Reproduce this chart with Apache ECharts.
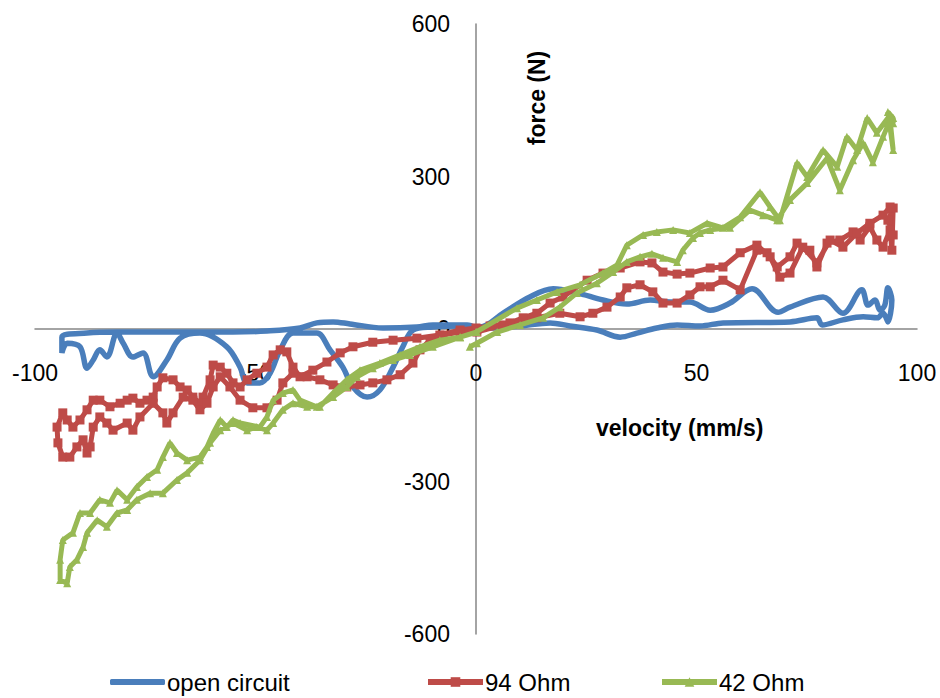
<!DOCTYPE html>
<html>
<head>
<meta charset="utf-8">
<script src="https://cdn.jsdelivr.net/npm/echarts@6/dist/echarts.min.js"></script>
<style>
html,body{margin:0;padding:0;background:#fff;}
#chart{width:940px;height:698px;}
</style>
</head>
<body>
<div id="chart"></div>
<script>
// ---- data (velocity mm/s, force N) ----
var seriesNames = ["open circuit", "94 Ohm", "42 Ohm"];
var xTicks = [-100, -50, 0, 50, 100];
var yTicks = [-600, -300, 0, 300, 600];

var openCircuit = [
  [0,2],[3.2,2],[10,6],[16.8,12],[21.3,6],[27.4,-2],[32.7,-16],[36.5,-8],[41,2],[45.6,8],[50.8,6],
  [56,12],[71.2,14],[77.3,22],[78.5,8],[83.2,18],[87.8,24],[91,22],[92.3,31],[93.2,18],
  [93.4,14],[94.3,57],[93.4,81],[92.7,47],
  [91.6,37],[90.5,57],[88.9,47],[87.5,77],[83.2,31],[78.7,63],[71.2,43],[68.5,33],[62.6,79],
  [57.6,51],[53.1,37],[48.5,53],[44,53],[39.5,57],[34.2,49],[28.8,57],[22.9,71],[17.5,79],
  [12.2,63],[6.1,31],[0.9,4],
  [-3.6,6],[-9.8,4],[-14.3,-2],[-16.6,-35],[-18.8,-75],[-21.8,-120],[-24.7,-134],[-27.9,-114],
  [-30.2,-75],[-33.1,-41],[-36.1,-8],[-41.5,-8],[-44.4,-41],[-46.7,-87],[-49,-106],[-51.9,-106],
  [-53.5,-75],[-56.5,-35],[-62.6,-8],[-67.1,-18],[-70.1,-61],[-73.2,-94],[-75.5,-47],[-77.8,-55],
  [-80,-28],[-81.4,-8],[-83.7,-55],[-85.3,-41],[-86.8,-61],[-88.2,-77],[-89.8,-35],[-92.7,-28],
  [-93.9,-47],[-93.9,-16],
  [-88.2,-8],[-81.4,-6],[-70.1,-6],[-55.1,-6],[-47.4,-4],[-39.9,2],[-36.1,12],[-32.4,14],
  [-28.6,10],[-21.1,2],[-13.4,4],[-9.8,8],[-2,8],[0,2]
];

var ohm94 = [
  [0.2,-6],[6.1,8],[13.8,22],[19,31],[23.6,24],[26.5,31],[29.7,43],[32.7,63],[34.2,81],[37.2,87],
  [40.1,73],[42.4,51],[45.6,51],[48.5,67],[50.8,83],[53.1,83],[56,96],[59.9,77],[63.7,155],
  [66,150],[68.3,122],[71.2,142],[72.8,169],[75.7,155],[77.3,122],[79.6,169],[82.5,175],
  [85.5,191],[87.1,175],[89.3,201],[90.9,175],[92.3,161],[93.9,195],
  [94.3,155],[94.6,238],[93.4,214],[94.6,185],
  [93.9,240],[92.3,224],[89.3,208],[86.4,189],[83.2,161],[80.3,175],[77.3,130],[74.1,161],
  [71.2,110],[68.9,102],[66.7,142],[63.7,165],[59.9,150],[56,122],[53.1,120],[48.5,110],
  [45.6,108],[42.4,112],[39.9,130],[37.2,132],[32.7,120],[28.8,110],[25.2,96],[19.7,63],
  [16.8,51],[13.8,31],[10.7,22],[7.7,12],[3.2,6],[0,2],
  [-3.6,-2],[-8.2,-12],[-13.4,-18],[-18.8,-22],[-23.4,-26],[-27.9,-35],[-30.8,-47],[-33.8,-65],
  [-37,-81],[-39.9,-94],[-41.5,-75],[-42.9,-45],[-44.4,-41],[-46,-51],[-47.4,-75],[-49.7,-87],
  [-51.9,-100],[-53.5,-114],[-55.1,-106],[-56.5,-87],[-58,-75],[-59.6,-71],[-60.3,-100],
  [-61.9,-134],[-62.6,-146],[-64.2,-134],[-65.5,-120],[-67.1,-114],[-68.7,-100],[-71,-96],
  [-72.3,-114],[-73.2,-134],[-74.6,-140],[-76.2,-146],[-77.8,-136],[-79.1,-140],[-80.7,-146],
  [-83,-153],[-85.3,-140],[-86.8,-140],[-88.2,-159],[-89.8,-179],[-91.4,-193],[-92.7,-179],
  [-93.7,-165],[-95,-193],[-94.8,-224],[-93.7,-252],[-92.1,-252],
  [-90.5,-232],[-89.1,-218],[-88.2,-244],[-87.5,-232],[-86.8,-193],[-85.3,-173],[-83.7,-185],
  [-82.3,-199],[-79.1,-185],[-77.8,-199],[-76.2,-173],[-73.2,-146],[-71,-165],[-70.1,-185],
  [-68.7,-165],[-66.4,-134],[-64.2,-140],[-62.6,-159],[-61,-146],[-59.6,-114],[-58,-94],
  [-55.8,-114],[-53.5,-140],[-50.6,-155],[-47.4,-155],[-45.1,-140],[-43.8,-106],[-41.5,-87],
  [-38.3,-94],[-35.4,-100],[-32.4,-110],[-29.3,-114],[-26.3,-110],[-23.4,-106],[-20.2,-100],
  [-17.2,-90],[-14.3,-67],[-12.7,-41],[-10.4,-22],[-7.5,-12],[-3.6,-6],[0.2,0]
];

var ohm42 = [
  [-1.4,-35],[0.2,-28],[4.8,-6],[10,8],[15.2,22],[19,43],[22.9,71],[27.4,90],[31.1,112],
  [34.2,132],[37.2,142],[39.9,148],[42.4,140],[45.6,132],[46.9,155],[49.2,179],[50.8,189],
  [53.1,195],[57.6,199],[62.1,234],[65.1,224],[68.3,214],[71.2,254],[75.1,287],[79.6,336],
  [82.5,273],[85.5,332],[87.8,366],[90,328],[92.3,378],[93.9,411],
  [94.6,352],[93.4,427],[94.6,415],
  [94.6,405],[93.9,421],[90.9,386],[88.7,415],[86.4,352],[84.1,378],[81.9,319],[78.7,352],
  [75.1,299],[72.8,327],[68.9,214],[66.7,240],[64.4,269],[59.9,220],[56,199],[52.4,208],
  [48.5,189],[44.7,195],[41,191],[37.9,185],[34.2,165],[32,126],[28.8,110],[23.6,87],
  [18.4,73],[13.8,57],[9.3,41],[0,-6],
  [-3.6,-16],[-9.8,-35],[-15,-51],[-18.8,-61],[-23.4,-77],[-27,-94],[-29.3,-114],[-32.4,-134],
  [-36.1,-153],[-39.9,-140],[-41.5,-120],[-43.8,-126],[-46,-140],[-47.4,-173],[-49,-193],
  [-53.5,-185],[-55.1,-179],[-56.5,-193],[-58,-179],[-59.6,-205],[-61,-232],[-62.6,-252],
  [-65.5,-258],[-67.8,-244],[-69.4,-224],[-71,-252],[-72.3,-277],[-74.6,-291],[-76.9,-311],
  [-79.1,-336],[-81.4,-317],[-83,-342],[-85.3,-336],[-87.5,-362],[-89.8,-362],[-91.4,-401],
  [-93.7,-415],[-94.3,-454],[-94.3,-494],
  [-92.7,-500],[-92.1,-468],[-90.5,-454],[-89.1,-429],[-88.2,-401],[-85.9,-376],[-83.7,-389],
  [-81.4,-362],[-79.1,-356],[-76.9,-336],[-73.9,-323],[-71,-323],[-67.8,-297],[-65.5,-283],
  [-62.6,-258],[-60.3,-224],[-58,-199],[-55.1,-185],[-51.9,-199],[-49.7,-193],[-47.4,-199],
  [-46,-185],[-43.8,-159],[-41.5,-146],[-38.3,-153],[-35.4,-153],[-32.4,-126],[-29.3,-100],
  [-26.3,-81],[-21.8,-67],[-17.2,-51],[-12.7,-35],[-8.2,-22],[-3.6,-16],[0.2,-6]
];

var colors = ["#4A7EBB", "#BE4B48", "#98B954"];
var FONT = "'Liberation Sans', Arial, sans-serif";

var GRID = {left: 35, right: 23, top: 24, bottom: 64};
var W = 940, H = 698;
var plotW = W - GRID.left - GRID.right, plotH = H - GRID.top - GRID.bottom;
// pixel position of the zero lines inside the grid (from axis ranges)
var zeroYFromBottom = plotH * (0 - yTicks[0]) / (yTicks[yTicks.length - 1] - yTicks[0]);
var zeroXFromLeft = plotW * (0 - xTicks[0]) / (xTicks[xTicks.length - 1] - xTicks[0]);

var chart = echarts.init(document.getElementById('chart'), null, {renderer: 'svg'});

function legendAt(name, left, opts) {
  var l = {
    data: [name], left: left, top: 670, orient: 'horizontal',
    itemWidth: 55, itemHeight: 12, itemGap: 0, padding: 0,
    lineStyle: {width: 6},
    textStyle: {fontFamily: FONT, fontSize: 24, color: '#000', padding: [0, 0, 0, -3]},
    selectedMode: false
  };
  if (opts) for (var k in opts) l[k] = opts[k];
  return l;
}

var axisCommon = {
  axisTick: {show: false},
  splitLine: {show: false}
};

chart.setOption({
  animation: false,
  backgroundColor: '#fff',
  color: colors,
  grid: {left: GRID.left, right: GRID.right, top: GRID.top, bottom: GRID.bottom,
         containLabel: false, outerBoundsMode: 'none'},
  xAxis: [
    Object.assign({
      type: 'value', min: xTicks[0], max: xTicks[xTicks.length - 1], interval: 50,
      axisLine: {onZero: true, lineStyle: {color: '#868686', width: 1.5}},
      axisLabel: {show: false}
    }, axisCommon),
    Object.assign({
      type: 'value', min: xTicks[0], max: xTicks[xTicks.length - 1], interval: 50,
      position: 'bottom', offset: -zeroYFromBottom,
      axisLine: {show: false, onZero: false},
      axisLabel: {fontFamily: FONT, fontSize: 23, color: '#000', margin: 32}
    }, axisCommon)
  ],
  yAxis: [
    Object.assign({
      type: 'value', min: yTicks[0], max: yTicks[yTicks.length - 1], interval: 300,
      axisLine: {onZero: true, lineStyle: {color: '#868686', width: 1.5}},
      axisLabel: {show: false}
    }, axisCommon),
    Object.assign({
      type: 'value', min: yTicks[0], max: yTicks[yTicks.length - 1], interval: 300,
      position: 'left', offset: -zeroXFromLeft,
      axisLine: {show: false, onZero: false},
      axisLabel: {fontFamily: FONT, fontSize: 23, color: '#000', margin: 26}
    }, axisCommon)
  ],
  legend: [
    legendAt(seriesNames[0], 110, {data: [{name: seriesNames[0], icon: 'roundRect'}], itemHeight: 6}),
    legendAt(seriesNames[1], 425),
    legendAt(seriesNames[2], 659)
  ],
  graphic: [
    {type: 'text', left: 596, top: 416,
     style: {text: 'velocity (mm/s)', font: 'bold 23px ' + FONT, fill: '#000'}},
    {type: 'text', x: 537, y: 98, rotation: Math.PI / 2,
     style: {text: 'force (N)', font: 'bold 23px ' + FONT, fill: '#000', align: 'center', verticalAlign: 'middle'}}
  ],
  series: [
    {name: seriesNames[0], type: 'line', data: openCircuit, symbol: 'none', smooth: 0.35,
     lineStyle: {width: 5.5, color: colors[0]}, itemStyle: {color: colors[0]}, z: 2},
    {name: seriesNames[1], type: 'line', data: ohm94, symbol: 'rect', symbolSize: 9, showSymbol: true,
     lineStyle: {width: 5, color: colors[1]}, itemStyle: {color: colors[1]}, z: 3},
    {name: seriesNames[2], type: 'line', data: ohm42, symbol: 'triangle', symbolSize: 8, showSymbol: true,
     lineStyle: {width: 5, color: colors[2]}, itemStyle: {color: colors[2]}, z: 4}
  ]
});
</script>
</body>
</html>
